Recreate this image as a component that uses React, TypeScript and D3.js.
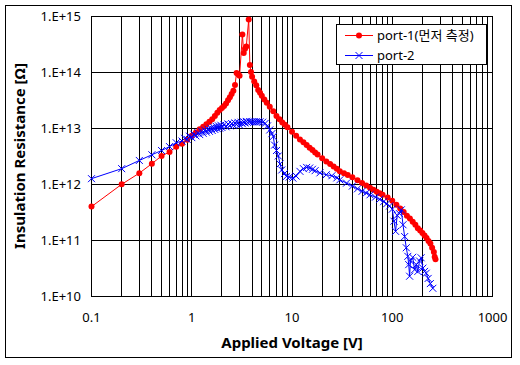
import React from "react";
import * as d3 from "d3";

// ---- Data ----
const port1Volts = [
  0.1, 0.2, 0.3, 0.4, 0.5, 0.6, 0.7, 0.8, 0.9, 1.0, 1.1, 1.2, 1.3, 1.4, 1.5, 1.6, 1.7, 1.8, 1.9, 2.0,
  2.1, 2.2, 2.3, 2.4, 2.5, 2.6, 2.7, 2.8, 2.9, 3.0, 3.2, 3.3, 3.4, 3.5, 3.7, 3.8, 3.9, 4.0, 4.2, 4.4,
  4.6, 4.8, 5.0, 5.3, 5.6, 6.0, 6.5, 7.0, 7.5, 8.0, 8.5, 9.0, 10, 11, 12, 13, 14, 15, 16, 17,
  18, 20, 22, 24, 26, 28, 30, 33, 36, 40, 45, 50, 55, 60, 65, 70, 75, 80, 90, 100,
  110, 120, 130, 140, 150, 160, 170, 180, 190, 200, 210, 220, 230, 240, 250, 260, 265, 270,
];
const port1Res = [
  4.0e11, 1.0e12, 1.58e12, 2.33e12, 3.2e12, 3.76e12, 4.67e12, 5.3e12, 6.2e12, 7.3e12, 8.4e12, 9.6e12, 1.06e13, 1.17e13, 1.3e13, 1.45e13, 1.65e13, 1.88e13, 2.1e13, 2.3e13,
  2.5e13, 2.77e13, 3.15e13, 3.57e13, 4.05e13, 4.63e13, 5.9e13, 9.6e13, 9.2e13, 8.6e13, 4.7e14, 2.2e14, 2.6e14, 2.85e14, 8.7e14, 1.34e14, 1.0e14, 8.3e13, 6.8e13, 5.8e13,
  4.8e13, 4.3e13, 3.8e13, 3.25e13, 2.85e13, 2.4e13, 2.0e13, 1.65e13, 1.45e13, 1.27e13, 1.15e13, 1.04e13, 8.6e12, 7.3e12, 6.3e12, 5.6e12, 5.0e12, 4.5e12, 4.1e12, 3.7e12,
  3.4e12, 2.9e12, 2.55e12, 2.3e12, 2.08e12, 1.9e12, 1.7e12, 1.58e12, 1.46e12, 1.34e12, 1.18e12, 1.05e12, 9.5e11, 8.7e11, 8.0e11, 7.4e11, 6.9e11, 6.5e11, 5.8e11, 5.1e11,
  4.3e11, 3.7e11, 3.2e11, 2.76e11, 2.45e11, 2.16e11, 1.9e11, 1.65e11, 1.5e11, 1.35e11, 1.22e11, 1.1e11, 9.8e10, 8.8e10, 7.4e10, 6.2e10, 5.1e10, 4.6e10,
];

const port2Volts = [
  0.1, 0.2, 0.3, 0.4, 0.5, 0.6, 0.7, 0.8, 0.85, 0.9, 0.95, 1.0, 1.05, 1.1, 1.15, 1.2, 1.25, 1.3, 1.35, 1.4,
  1.45, 1.5, 1.55, 1.6, 1.65, 1.7, 1.75, 1.8, 1.85, 1.9, 1.95, 2.0, 2.1, 2.2, 2.3, 2.4, 2.5, 2.6, 2.7, 2.8,
  2.9, 3.0, 3.1, 3.2, 3.3, 3.4, 3.5, 3.6, 3.8, 4.0, 4.2, 4.4, 4.6, 4.8, 5.1, 5.4, 5.7, 6.0, 6.3, 6.5,
  6.7, 7.0, 7.3, 7.6, 7.9, 8.4, 8.8, 9.4, 10.2, 11, 12, 13, 14, 15, 16, 17, 19, 22, 25, 28,
  30, 35, 40, 45, 50, 55, 60, 68, 75, 82, 88, 94, 100, 104, 108, 112, 118, 123, 128, 133,
  138, 143, 146, 149, 152, 160, 167, 174, 180, 187, 194, 202, 210, 218, 228, 240, 254,
];
const port2Res = [
  1.26e12, 1.9e12, 2.66e12, 3.36e12, 4.0e12, 4.7e12, 5.5e12, 5.9e12, 6.6e12, 6.3e12, 7.2e12, 6.8e12, 7.8e12, 7.3e12, 8.3e12, 7.7e12, 8.8e12, 8.1e12, 9.2e12, 8.5e12,
  9.6e12, 8.8e12, 1.0e13, 9.1e12, 1.04e13, 9.5e12, 1.08e13, 9.8e12, 1.1e13, 1.0e13, 1.13e13, 1.03e13, 1.16e13, 1.06e13, 1.19e13, 1.1e13, 1.21e13, 1.13e13, 1.24e13, 1.16e13,
  1.27e13, 1.14e13, 1.28e13, 1.2e13, 1.3e13, 1.24e13, 1.32e13, 1.27e13, 1.3e13, 1.3e13, 1.3e13, 1.3e13, 1.3e13, 1.3e13, 1.28e13, 1.22e13, 1.1e13, 9.3e12, 8.0e12, 7.1e12,
  5.0e12, 4.0e12, 3.2e12, 2.3e12, 1.8e12, 1.55e12, 1.38e12, 1.35e12, 1.29e12, 1.4e12, 1.7e12, 1.9e12, 2.0e12, 1.95e12, 1.85e12, 1.75e12, 1.6e12, 1.48e12, 1.42e12, 1.3e12,
  1.2e12, 1.05e12, 9.3e11, 8.3e11, 7.5e11, 7.0e11, 6.5e11, 5.9e11, 5.4e11, 4.9e11, 4.5e11, 4.1e11, 3.6e11, 2.2e11, 1.45e11, 2.8e11, 3.0e11, 3.5e11, 1.9e11, 1.17e11,
  7.4e10, 5.2e10, 3.7e10, 2.3e10, 4.3e10, 5.0e10, 3.0e10, 3.7e10, 2.8e10, 4.3e10, 4.9e10, 3.2e10, 2.8e10, 2.6e10, 2.1e10, 1.7e10, 1.4e10,
];

const xTicks = [0.1, 1, 10, 100, 1000];
const xTickLabels = ["0.1", "1", "10", "100", "1000"];
const yTicks = [1e10, 1e11, 1e12, 1e13, 1e14, 1e15];
const yTickLabels = ["1.E+10", "1.E+11", "1.E+12", "1.E+13", "1.E+14", "1.E+15"];
const seriesNames = ["port-1(먼저 측정)", "port-2"];
const xTitle = "Applied Voltage [V]";
const yTitle = "Insulation Resistance [Ω]";

const FONT = "'Noto Sans', 'Noto Sans CJK KR', sans-serif";

export default function App() {
  const W = 520, H = 365;
  const left = 91.5, right = 492.5, top = 16, bottom = 296.5;
  const x = d3.scaleLog().domain([0.1, 1000]).range([left, right]);
  const y = d3.scaleLog().domain([1e10, 1e15]).range([bottom, top]);
  const crisp = (v: number) => Math.round(v - 0.5) + 0.5;

  const minor: number[] = [];
  for (let k = -1; k <= 2; k++) {
    for (let m = 1; m <= 9; m++) minor.push(m * Math.pow(10, k));
  }
  minor.push(1000);

  const red = port1Volts.map((v, i) => [v, port1Res[i]] as [number, number]);
  const blue = port2Volts.map((v, i) => [v, port2Res[i]] as [number, number]);
  const line = d3.line<[number, number]>().x((d) => x(d[0])).y((d) => y(d[1]));

  const cross = (cx: number, cy: number, s: number, key: string | number) => (
    <path key={key} d={`M${cx - s},${cy - s}L${cx + s},${cy + s}M${cx - s},${cy + s}L${cx + s},${cy - s}`} stroke="#0000FF" strokeWidth={1} fill="none" />
  );

  const lx1 = 345, lx2 = 373;
  return (
    <svg width={W} height={H} style={{ position: "absolute", left: 0, top: 0, background: "#fff" }} fontFamily={FONT}>
      <rect x={0} y={0} width={W} height={H} fill="#fff" />
      <rect x={5.5} y={5.5} width={506} height={352} fill="none" stroke="#000" strokeWidth={1} />
      {/* grid */}
      {minor.map((v, i) => (
        <line key={"vx" + i} x1={crisp(x(v))} x2={crisp(x(v))} y1={top} y2={bottom} stroke="#000" strokeWidth={1} />
      ))}
      {yTicks.map((v, i) => (
        <line key={"hy" + i} x1={left} x2={right} y1={crisp(y(v))} y2={crisp(y(v))} stroke="#000" strokeWidth={1} />
      ))}
      <rect x={crisp(left)} y={crisp(top)} width={crisp(right) - crisp(left)} height={crisp(bottom) - crisp(top)} fill="none" stroke="#000" strokeWidth={1} />
      {/* series 1 */}
      <path d={line(red) || ""} fill="none" stroke="#FF0000" strokeWidth={1} />
      {red.map((d, i) => (
        <circle key={"r" + i} cx={x(d[0])} cy={y(d[1])} r={3} fill="#FF0000" />
      ))}
      {/* series 2 */}
      <path d={line(blue) || ""} fill="none" stroke="#0000FF" strokeWidth={1} />
      {blue.map((d, i) => cross(x(d[0]), y(d[1]), 3.5, "b" + i))}
      {/* axis labels */}
      {xTicks.map((v, i) => (
        <text key={"xt" + i} x={x(v)} y={321.5} fontSize={13} textAnchor="middle" fill="#000">{xTickLabels[i]}</text>
      ))}
      {yTicks.map((v, i) => (
        <text key={"yt" + i} x={81} y={y(v)} dy="0.35em" fontSize={13} textAnchor="end" fill="#000">{yTickLabels[i]}</text>
      ))}
      <text x={292} y={347.5} fontSize={15} fontWeight="bold" textAnchor="middle" fill="#000">{xTitle}</text>
      <text transform={`translate(25,156) rotate(-90)`} fontSize={15} fontWeight="bold" textAnchor="middle" fill="#000">{yTitle}</text>
      {/* legend */}
      <rect x={336.5} y={24.5} width={150} height={40} fill="#fff" stroke="#000" strokeWidth={1} />
      <line x1={lx1} x2={lx2} y1={35.5} y2={35.5} stroke="#FF0000" strokeWidth={1} />
      <circle cx={(lx1 + lx2) / 2} cy={35.5} r={3} fill="#FF0000" />
      <text x={377} y={35.5} dy="0.35em" fontSize={13} fill="#000">{seriesNames[0]}</text>
      <line x1={lx1} x2={lx2} y1={55.5} y2={55.5} stroke="#0000FF" strokeWidth={1} />
      {cross((lx1 + lx2) / 2, 55.5, 3.5, "lg")}
      <text x={377} y={55.5} dy="0.35em" fontSize={13} fill="#000">{seriesNames[1]}</text>
    </svg>
  );
}
